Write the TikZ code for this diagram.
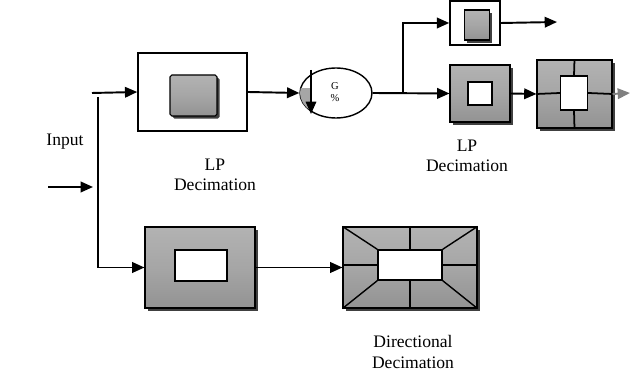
\documentclass[tikz,border=0pt]{standalone}
\usepackage{fontspec}
\setmainfont{Liberation Serif}
\usetikzlibrary{positioning, shapes.geometric, arrows.meta, shadows}

\tikzset{
  wire/.style={line width=1.1pt, -{Triangle[length=7pt,width=6pt]}},
  plain/.style={line width=1pt},
  whitebox/.style={draw, line width=0.9pt, fill=white},
  block/.style={draw, line width=0.6pt, top color=gray!60, bottom color=gray!85, middle color=gray!70,
    drop shadow={shadow xshift=1.5pt, shadow yshift=-1.5pt, fill=black!75, opacity=1}},
  hole/.style={draw, line width=0.8pt, fill=white},
  caption/.style={align=center, font=\fontsize{10}{11.5}\selectfont}
}

\begin{document}
\begin{tikzpicture}[x=0.02cm, y=-0.02cm]
		\useasboundingbox (0,0) rectangle (640,374);
		%%%%%%%%%%%%%
		\node[whitebox, minimum width=2.18cm, minimum height=1.56cm] (lp1) at (192.5,92) {};
		\node[block, minimum width=0.94cm, minimum height=0.82cm, rounded corners=1pt] (lp1in) at (193.5,95.5) {};
		\node[draw, ellipse, line width=0.8pt, minimum width=1.44cm, minimum height=1.0cm] (dec) at (336,93) {};
		\node[whitebox, minimum width=1.0cm, minimum height=0.88cm] (hp) at (475,23) {};
		\node[block, minimum width=0.5cm, minimum height=0.6cm] (hpin) at (477,25) {};
		\node[block, minimum width=1.2cm, minimum height=1.14cm] (lp2) at (480,93.5) {};
		\node[hole, minimum width=0.48cm, minimum height=0.46cm] (lp2in) at (480,93.5) {};
		\node[block, minimum width=1.5cm, minimum height=1.36cm] (qf) at (574.5,94) {};
		\node[hole, minimum width=0.54cm, minimum height=0.68cm] (qfin) at (574,93) {};
		\node[block, minimum width=2.2cm, minimum height=1.62cm] (lp3) at (200,267.5) {};
		\node[hole, minimum width=1.04cm, minimum height=0.62cm] (lp3in) at (201,265.5) {};
		\node[block, minimum width=2.68cm, minimum height=1.62cm] (dfb) at (410,267.5) {};
		\node[hole, minimum width=1.28cm, minimum height=0.6cm] (dfbin) at (410,265) {};
		%%%%%%%%%%%%%
		\node[caption] (inlab) at (65,142) {Input};
		\node[caption] (lab1) at (215,175) {LP\\Decimation};
		\node[caption] (lab2) at (467,156) {LP\\Decimation};
		\node[caption] (lab3) at (413,352) {Directional\\Decimation};
		\node[font=\fontsize{6}{7}\selectfont, align=center, inner sep=0pt] (declab) at (335,92) {G\\\%};
		%%%%%%%%%%%%%
		\coordinate (inl) at (48,187); \coordinate (inr) at (93,187);
		\coordinate (tapl) at (92,93); \coordinate (tapv) at (98,97);
		\coordinate (fork) at (403,93);
		\coordinate (hpout) at (557,22); \coordinate (qfout) at (630,93);
		\coordinate (arrtop) at (311,70); \coordinate (arrbot) at (311,114);
		%%%%%%%%%%%%%
		\begin{scope}
			\clip (dec.center) ellipse [x radius=0.72cm, y radius=0.5cm];
			\fill[gray!70] (290,88) rectangle (311,125);
		\end{scope}
		\draw[wire, line width=0.9pt] (arrtop) -- (arrbot);
		%%%%%%%%%%%%%
		\draw[plain] (qf.north) -- (qfin.north); \draw[plain] (qfin.south) -- (qf.south);
		\draw[plain] (qf.west) -- (qfin.west); \draw[plain] (qfin.east) -- (qf.east);
		\draw[plain, line width=0.8pt] (dfb.north west) -- (dfbin.north west); \draw[plain, line width=0.8pt] (dfb.north east) -- (dfbin.north east);
		\draw[plain, line width=0.8pt] (dfb.south west) -- (dfbin.south west); \draw[plain, line width=0.8pt] (dfb.south east) -- (dfbin.south east);
		\draw[plain, line width=0.8pt] (dfb.north) -- (dfbin.north); \draw[plain, line width=0.8pt] (dfbin.south) -- (dfb.south);
		\draw[plain, line width=0.8pt] (dfb.west |- dfbin.west) -- (dfbin.west); \draw[plain, line width=0.8pt] (dfbin.east) -- (dfb.east |- dfbin.east);
		%%%%%%%%%%%%%
		\draw[wire] (inl) -- (inr);
		\draw[wire] (tapl) -- (lp1.west);
		\draw[wire] (tapv) |- (lp3.west);
		\draw[wire] (lp1.east) -- (dec.west);
		\draw[wire] (dec.east) -- (lp2.west);
		\draw[wire] (fork) |- (hp.west);
		\draw[wire] (hp.east) -- (hpout);
		\draw[wire] (lp2.east) -- (qf.west);
		\draw[wire, gray] (qf.east) -- (qfout);
		\draw[wire] (lp3.east) -- (dfb.west |- lp3.east);
\end{tikzpicture}
\end{document}
